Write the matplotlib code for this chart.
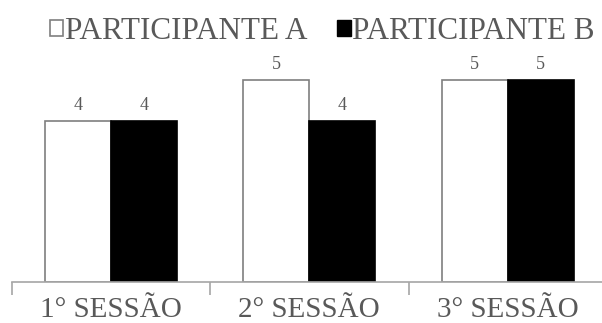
import numpy as np
import matplotlib.pyplot as plt
from matplotlib.patches import Patch

sessions = ['1° SESSÃO', '2° SESSÃO', '3° SESSÃO']
participant_a = [4, 5, 5]
participant_b = [4, 4, 5]

plt.rcParams['font.family'] = ['Liberation Serif', 'DejaVu Serif']
text_gray = '#595959'
axis_gray = '#a6a6a6'

fig = plt.figure(figsize=(6.02, 3.23), dpi=100)
ax = fig.add_axes([11.5 / 602, 41 / 323, 595.5 / 602, 222 / 323])

x = np.arange(len(sessions))
w = 0.332
bars_a = ax.bar(x - w / 2, participant_a, w, color='white', edgecolor='#7f7f7f', linewidth=1.2)
bars_b = ax.bar(x + w / 2, participant_b, w, color='black', edgecolor='black', linewidth=1.2)

for bars, vals in ((bars_a, participant_a), (bars_b, participant_b)):
    for b, v in zip(bars, vals):
        ax.text(b.get_x() + b.get_width() / 2, v + 0.17, str(v), ha='center', va='bottom',
                fontsize=13, color=text_gray)

ax.set_xlim(-0.5, 2.5)
ax.set_ylim(0, 5.5)
ax.set_yticks([])
for side in ('top', 'right', 'left'):
    ax.spines[side].set_visible(False)
ax.spines['bottom'].set_color(axis_gray)
ax.spines['bottom'].set_linewidth(1.2)

ax.set_xticks(x)
ax.set_xticklabels(sessions, fontsize=21, color=text_gray)
ax.tick_params(axis='x', which='major', length=0, pad=11)
ax.set_xticks([-0.5, 0.5, 1.5, 2.5], minor=True)
ax.tick_params(axis='x', which='minor', length=9, width=1.2, color=axis_gray, direction='out')

handles = [Patch(facecolor='white', edgecolor='#7f7f7f', linewidth=1.2),
           Patch(facecolor='black', edgecolor='black')]
fig.legend(handles, ['PARTICIPANTE A', 'PARTICIPANTE B'], loc='upper left',
           bbox_to_anchor=(34 / 602, 0.995), ncol=2, frameon=False, fontsize=22.4,
           handlelength=0.44, handleheight=0.44, handletextpad=0.05, columnspacing=0.95,
           labelcolor=text_gray, borderaxespad=0.1)

fig.savefig('out.png', dpi=100)
